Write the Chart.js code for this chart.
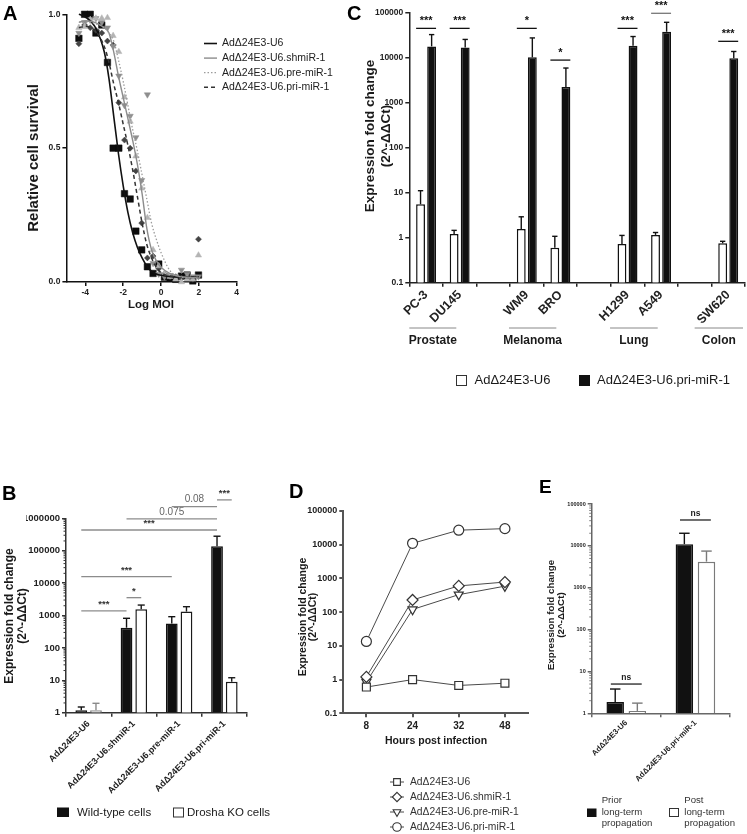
<!DOCTYPE html>
<html><head><meta charset="utf-8">
<script src="https://cdn.jsdelivr.net/npm/chart.js@4/dist/chart.umd.min.js"></script>
<style>
html,body{margin:0;padding:0;background:#fff;}
#wrap{position:relative;width:747px;height:834px;overflow:hidden;background:#fff;}
#wrap canvas{position:absolute;left:0;top:0;width:747px;height:834px;}
</style></head>
<body><div id="wrap">
<canvas id="cA" width="747" height="834"></canvas>
<canvas id="cB" width="747" height="834"></canvas>
<canvas id="cC" width="747" height="834"></canvas>
<canvas id="cD" width="747" height="834"></canvas>
<canvas id="cE" width="747" height="834"></canvas>
</div>
<script>
// ================= DATA =================
// Panel A : cell survival vs log MOI
const seriesNames = ['AdΔ24E3-U6','AdΔ24E3-U6.shmiR-1','AdΔ24E3-U6.pre-miR-1','AdΔ24E3-U6.pri-miR-1'];
const logMOI    = [-4.34,-4.04,-3.74,-3.44,-3.13,-2.83,-2.53,-2.23,-1.93,-1.63,-1.33,-1.02,-0.72,-0.42,-0.12,0.18,0.48,0.78,1.08,1.38,1.68,1.98];
const survU6    = [0.91,1.00,1.00,0.93,0.96,0.82,0.50,0.50,0.33,0.31,0.19,0.12,0.057,0.032,0.067,0.018,0.014,0.010,0.022,0.026,0.004,0.026];
const survShmiR = [0.93,0.97,0.98,0.985,0.97,0.95,0.88,0.77,0.66,0.62,0.54,0.38,0.70,0.07,0.03,0.02,0.025,0.02,0.045,0.03,0.02,0.02];
const survPre   = [0.95,0.954,0.98,0.985,0.985,0.987,0.92,0.86,0.69,0.60,0.47,0.35,0.24,0.12,0.06,0.03,0.02,0.01,0.00,0.01,0.01,0.10];
const survPri   = [0.89,0.96,0.95,0.94,0.93,0.90,0.885,0.67,0.53,0.50,0.415,0.22,0.09,0.097,0.05,0.03,0.02,0.02,0.015,0.02,0.01,0.16];
const fitLogMOI = [-4.34,-4,-3.5,-3,-2.75,-2.5,-2.25,-2,-1.75,-1.5,-1.25,-1,-0.75,-0.5,-0.25,0,0.5,1,1.5,2];
const fitU6     = [1.0,0.99,0.955,0.86,0.76,0.62,0.48,0.36,0.26,0.185,0.13,0.09,0.06,0.04,0.03,0.025,0.02,0.018,0.017,0.017];
const fitShmiR  = [0.97,0.975,0.97,0.95,0.93,0.86,0.77,0.69,0.61,0.53,0.44,0.33,0.2,0.12,0.08,0.055,0.03,0.02,0.017,0.015];
const fitPre    = [0.97,0.97,0.965,0.95,0.93,0.9,0.83,0.75,0.66,0.57,0.49,0.4,0.31,0.22,0.16,0.11,0.04,0.02,0.015,0.012];
const fitPri    = [0.95,0.955,0.94,0.88,0.82,0.74,0.67,0.59,0.51,0.42,0.32,0.22,0.14,0.09,0.055,0.035,0.022,0.02,0.02,0.02];
const ticksAX = [-4,-2,0,2,4];
const ticksAY = [0,0.5,1];

// Panel B : wild-type vs Drosha KO
const vectorsB = ['AdΔ24E3-U6','AdΔ24E3-U6.shmiR-1','AdΔ24E3-U6.pre-miR-1','AdΔ24E3-U6.pri-miR-1'];
const wtB     = [1.2, 420, 570, 138000];
const wtBErr  = [1.5, 820, 920, 280000];
const koB     = [1.2, 1550, 1320, 9];
const koBErr  = [1.95, 2100, 1870, 12];
const ticksB  = [1,10,100,1000,10000,100000,1000000];
const sigB    = ['***','*','***','***','0.075','0.08','***'];

// Panel C : cell lines
const cellLines = ['PC-3','DU145','','WM9','BRO','','H1299','A549','','SW620'];
const u6C      = [5.5,1.2,null,1.55,0.6,null,0.72,1.15,null,0.75];
const u6CErr   = [11,1.45,null,2.9,1.07,null,1.12,1.3,null,0.83];
const priC     = [17500,16500,null,10000,2200,null,18000,37000,null,9500];
const priCErr  = [32000,25000,null,27000,5800,null,29000,60000,null,13500];
const sigC     = ['***','***',null,'*','*',null,'***','***',null,'***'];
const tissues  = ['Prostate','Melanoma','Lung','Colon'];
const ticksC   = [0.1,1,10,100,1000,10000,100000];

// Panel D : time course
const hours  = ['8','24','32','48'];
const dU6    = [0.6,1.0,0.67,0.78];
const dShmiR = [1.2,230,600,780];
const dPre   = [0.85,120,330,590];
const dPri   = [13.5,11000,27000,30000];
const ticksD = [0.1,1,10,100,1000,10000,100000];

// Panel E : long-term propagation
const vectorsE  = ['AdΔ24E3-U6','AdΔ24E3-U6.pri-miR-1'];
const priorE    = [1.85, 11000];
const priorEErr = [3.8, 20000];
const postE     = [1.14, 4200];
const postEErr  = [1.75, 7500];
const sigE      = ['ns','ns'];
const ticksE    = [1,10,100,1000,10000,100000];

// ================= HELPERS =================
const FONT = '"Liberation Sans", Arial, Helvetica, sans-serif';
Chart.defaults.font.family = FONT;
Chart.defaults.color = '#222';
const CW = 747, CH = 834;
function pad(a, yW, xH){ return {left:a.l - yW, top:a.t, right:CW - a.r, bottom:CH - a.b - xH}; }
function f(size, bold){ return (bold ? 'bold ' : '') + size + 'px ' + FONT; }
function T(ctx, s, x, y, font, o){
  o = o || {};
  ctx.save(); ctx.font = font; ctx.fillStyle = o.color || '#1a1a1a';
  ctx.textAlign = o.align || 'center'; ctx.textBaseline = o.base || 'middle';
  ctx.translate(x, y); if (o.rot) ctx.rotate(o.rot);
  ctx.fillText(s, 0, 0); ctx.restore();
}
function line(ctx, x1, y1, x2, y2, color, lw, dash){
  ctx.save(); ctx.strokeStyle = color; ctx.lineWidth = lw; if (dash) ctx.setLineDash(dash);
  ctx.beginPath(); ctx.moveTo(x1, y1); ctx.lineTo(x2, y2); ctx.stroke(); ctx.restore();
}
function marker(ctx, style, x, y, r, fill, stroke, lw, rot){
  ctx.save(); ctx.fillStyle = fill; ctx.strokeStyle = stroke; ctx.lineWidth = lw; ctx.beginPath();
  if (style === 'rect'){ const s = r*Math.SQRT1_2; ctx.rect(x-s, y-s, 2*s, 2*s); }
  else if (style === 'rectRot'){ ctx.moveTo(x, y-r); ctx.lineTo(x+r, y); ctx.lineTo(x, y+r); ctx.lineTo(x-r, y); ctx.closePath(); }
  else if (style === 'triangle'){ let a = (rot||0)*Math.PI/180; for (let k=0;k<3;k++){ const px = x + Math.sin(a)*r, py = y - Math.cos(a)*r; k ? ctx.lineTo(px,py) : ctx.moveTo(px,py); a += 2*Math.PI/3; } ctx.closePath(); }
  else { ctx.arc(x, y, r, 0, Math.PI*2); }
  ctx.fill(); if (lw > 0) ctx.stroke(); ctx.restore();
}
function yTitle(ctx, lines, xs, y, font){
  lines.forEach((s, i) => T(ctx, s, xs[i], y, font, {rot:-Math.PI/2}));
}
function axisOpts(color, width){
  return {border:{display:true, color, width}, grid:{display:true, drawOnChartArea:false, drawTicks:true, tickLength:4, color, lineWidth:width}};
}
function logY(area, yW, ticks, color, width, size){
  return Object.assign({
    type:'logarithmic', min:ticks[0], max:ticks[ticks.length-1],
    afterBuildTicks: s => { s.ticks = ticks.map(v => ({value:v})); },
    afterFit: s => { s.width = yW; },
    ticks:{font:{size, weight:'bold'}, color:'#222', padding:2, callback: v => String(v)}
  }, axisOpts(color, width));
}
function errorBars(chart, dsIndex, errs, color, lw){
  const meta = chart.getDatasetMeta(dsIndex), ys = chart.scales.y, ctx = chart.ctx;
  const vals = chart.data.datasets[dsIndex].data;
  meta.data.forEach((bar, i) => {
    if (vals[i] == null || errs[i] == null) return;
    const ye = ys.getPixelForValue(errs[i]);
    const c = Array.isArray(color) ? color[i] : color;
    const w = bar.width * 0.3;
    line(ctx, bar.x, bar.y, bar.x, ye, c, lw);
    line(ctx, bar.x - w, ye, bar.x + w, ye, c, lw);
  });
}
function minorTicks(chart, color, lw){
  const ys = chart.scales.y, ctx = chart.ctx, x = chart.chartArea.left;
  for (let d = ys.min; d < ys.max; d *= 10){
    for (let m = 2; m < 10; m++){
      const y = ys.getPixelForValue(d*m);
      line(ctx, x - 2.5, y, x, y, color, lw);
    }
  }
}
function bracket(ctx, x1, x2, y, label, lineColor, font, textColor){
  line(ctx, x1, y, x2, y, lineColor, 1.3);
  T(ctx, label, (x1+x2)/2, y - 2, font, {base:'bottom', color:textColor});
}
const common = {responsive:false, animation:false, events:[], devicePixelRatio:1,
  plugins:{legend:{display:false}, tooltip:{enabled:false}, title:{display:false}}};

// ================= PANEL A =================
(function(){
  const area = {l:66.4, r:236.7, t:14.3, b:282};
  const pts = (ys) => logMOI.map((x, i) => ({x, y:ys[i]}));
  const fit = (ys) => fitLogMOI.map((x, i) => ({x, y:ys[i]}));
  const mk = (data, style, r, color, rot) => ({data, showLine:false, pointStyle:style, pointRadius:r, pointRotation:rot||0,
    pointBackgroundColor:color, pointBorderColor:color, pointBorderWidth:0.5, clip:false, order:2});
  const cv = (data, color, width, dash) => ({data, showLine:true, pointRadius:0, borderColor:color, borderWidth:width,
    borderDash:dash||[], cubicInterpolationMode:'monotone', clip:false, order:1});
  const legendA = [
    {c:'#111', w:1.6, d:[]}, {c:'#8c8c8c', w:1.4, d:[]}, {c:'#9c9c9c', w:1.3, d:[1.5,2]}, {c:'#333', w:1.5, d:[4,3]}
  ];
  new Chart(document.getElementById('cA'), {
    type:'line',
    data:{datasets:[
      mk(pts(survPre), 'triangle', 3.6, '#b4b4b4'),
      mk(pts(survShmiR), 'triangle', 3.6, '#8e8e8e', 180),
      mk(pts(survPri), 'rectRot', 3, '#444'),
      mk(pts(survU6), 'rect', 4.6, '#0d0d0d'),
      cv(fit(fitPre), legendA[2].c, legendA[2].w, legendA[2].d),
      cv(fit(fitShmiR), legendA[1].c, legendA[1].w),
      cv(fit(fitPri), legendA[3].c, legendA[3].w, legendA[3].d),
      cv(fit(fitU6), legendA[0].c, legendA[0].w)
    ]},
    options:Object.assign({}, common, {
      layout:{padding:pad(area, 40, 25)},
      scales:{
        x: Object.assign({type:'linear', min:-5, max:4,
          afterBuildTicks: s => { s.ticks = ticksAX.map(v => ({value:v})); },
          afterFit: s => { s.height = 25; },
          ticks:{font:{size:8.5, weight:'bold'}, color:'#222', padding:2, callback: v => String(v)}}, axisOpts('#111', 1.5)),
        y: Object.assign({type:'linear', min:0, max:1,
          afterBuildTicks: s => { s.ticks = ticksAY.map(v => ({value:v})); },
          afterFit: s => { s.width = 40; },
          ticks:{font:{size:8.5, weight:'bold'}, color:'#222', padding:2, callback: v => v.toFixed(1)}}, axisOpts('#111', 1.5))
      }
    }),
    plugins:[{id:'annA', afterDraw(chart){
      const ctx = chart.ctx;
      T(ctx, 'A', 3, 20, f(20, true), {align:'left', base:'alphabetic', color:'#000'});
      T(ctx, 'Relative cell survival', 34, 158, f(15, true), {rot:-Math.PI/2});
      T(ctx, 'Log MOI', 151, 305, f(11.5, true));
      seriesNames.forEach((s, i) => {
        const y = 43.5 + i*14.6;
        line(ctx, 204, y, 217, y, legendA[i].c, legendA[i].w, legendA[i].d);
        T(ctx, s, 222, y, f(10.5), {align:'left', color:'#222'});
      });
    }}]
  });
})();

// ================= PANEL B =================
(function(){
  const area = {l:66, r:247, t:518.3, b:712.7};
  const koBorder = ['#8a8a8a','#1a1a1a','#1a1a1a','#1a1a1a'];
  // bracket definitions: [dataset, index] start, [dataset, index] end, height (data units of the log axis)
  const brB = [
    [[0,0],[0,1],1380], [[0,1],[1,1],3550], [[0,0],[0,2],15800], [[0,0],[0,3],436000],
    [[0,1],[0,3],955000], [[0,2],[0,3],2300000], [[0,3],[1,3],3700000]
  ];
  new Chart(document.getElementById('cB'), {
    type:'bar',
    data:{labels:vectorsB, datasets:[
      {label:'Wild-type cells', data:wtB, backgroundColor:'#111', borderColor:'#111', borderWidth:1.5,
        categoryPercentage:0.65, barPercentage:0.8},
      {label:'Drosha KO cells', data:koB, backgroundColor:['#d6d6d6','#fff','#fff','#fff'], borderColor:koBorder, borderWidth:1.5,
        categoryPercentage:0.65, barPercentage:0.8}
    ]},
    options:Object.assign({}, common, {
      layout:{padding:pad(area, 40, 100)},
      scales:{
        x: Object.assign({afterFit: s => { s.height = 100; },
          ticks:{font:{size:9, weight:'bold'}, color:'#222', minRotation:45, maxRotation:45, autoSkip:false, padding:2}}, axisOpts('#333', 1.5)),
        y: logY(area, 40, ticksB, '#333', 1.5, 9.5)
      }
    }),
    plugins:[{id:'annB', afterDatasetsDraw(chart){
      const ctx = chart.ctx;
      errorBars(chart, 0, wtBErr, '#111', 1.4);
      errorBars(chart, 1, koBErr, koBorder, 1.4);
      minorTicks(chart, '#333', 1);
      const ys = chart.scales.y;
      brB.forEach((b, k) => {
        const x1 = chart.getDatasetMeta(b[0][0]).data[b[0][1]].x;
        const x2 = chart.getDatasetMeta(b[1][0]).data[b[1][1]].x;
        const isNum = /\d/.test(sigB[k]);
        bracket(ctx, x1, x2, ys.getPixelForValue(b[2]), sigB[k], '#8c8c8c', isNum ? f(10) : f(9.5, true), isNum ? '#666' : '#333');
      });
      T(ctx, 'B', 2, 500, f(20, true), {align:'left', base:'alphabetic', color:'#000'});
      yTitle(ctx, ['Expression fold change', '(2^-ΔΔCt)'], [10, 23], 616, f(12, true));
      ctx.save(); ctx.fillStyle = '#111'; ctx.fillRect(57, 807.5, 12, 9.5); ctx.restore();
      T(ctx, chart.data.datasets[0].label, 77, 812.5, f(11.5), {align:'left'});
      ctx.save(); ctx.fillStyle = '#fff'; ctx.strokeStyle = '#333'; ctx.lineWidth = 1; ctx.fillRect(173.5, 808, 10, 9); ctx.strokeRect(173.5, 808, 10, 9); ctx.restore();
      T(ctx, chart.data.datasets[1].label, 187, 812.5, f(11.5), {align:'left'});
    }}]
  });
})();

// ================= PANEL C =================
(function(){
  const area = {l:409.3, r:745, t:12.3, b:282.7};
  const sigLevelC = [44000,44000,null,44000,8700,null,44000,95000,null,22700]; // bracket heights (axis units)
  const groupSpan = [[-0.5,0.9],[2.47,3.88],[5.48,6.9],[8.0,9.44]];         // tissue underline spans (category units)
  new Chart(document.getElementById('cC'), {
    type:'bar',
    data:{labels:cellLines, datasets:[
      {label:'AdΔ24E3-U6', data:u6C, backgroundColor:'#fff', borderColor:'#111', borderWidth:1.5, categoryPercentage:0.66, barPercentage:0.8},
      {label:'AdΔ24E3-U6.pri-miR-1', data:priC, backgroundColor:'#111', borderColor:'#111', borderWidth:1.5, categoryPercentage:0.66, barPercentage:0.8}
    ]},
    options:Object.assign({}, common, {
      layout:{padding:pad(area, 36, 40)},
      scales:{
        x: Object.assign({afterFit: s => { s.height = 40; },
          ticks:{font:{size:12.5, weight:'bold'}, color:'#222', minRotation:45, maxRotation:45, autoSkip:false, padding:1}}, axisOpts('#222', 1.5)),
        y: logY(area, 36, ticksC, '#222', 1.5, 8.5)
      }
    }),
    plugins:[{id:'annC', afterDatasetsDraw(chart){
      const ctx = chart.ctx, ys = chart.scales.y, xs = chart.scales.x;
      errorBars(chart, 0, u6CErr, '#111', 1.4);
      errorBars(chart, 1, priCErr, '#111', 1.4);
      const m0 = chart.getDatasetMeta(0), m1 = chart.getDatasetMeta(1);
      sigC.forEach((s, i) => {
        if (!s) return;
        const a = m0.data[i], b = m1.data[i];
        bracket(ctx, a.x - a.width/2, b.x + b.width/2, ys.getPixelForValue(sigLevelC[i]), s,
          i === 7 ? '#777' : '#111', f(11, true), '#111');
      });
      tissues.forEach((t, k) => {
        const x1 = xs.getPixelForValue(groupSpan[k][0]), x2 = xs.getPixelForValue(groupSpan[k][1]);
        line(ctx, x1, 328, x2, 328, '#888', 1);
        T(ctx, t, (x1+x2)/2, 340.5, f(12, true));
      });
      T(ctx, 'C', 347, 20, f(20, true), {align:'left', base:'alphabetic', color:'#000'});
      yTitle(ctx, ['Expression fold change', '(2^-ΔΔCt)'], [370, 386], 136, f(13.5, true));
      ctx.save(); ctx.fillStyle = '#fff'; ctx.strokeStyle = '#333'; ctx.lineWidth = 1;
      ctx.fillRect(456.5, 375.5, 10, 10); ctx.strokeRect(456.5, 375.5, 10, 10);
      ctx.fillStyle = '#111'; ctx.fillRect(579, 375, 11, 11); ctx.restore();
      T(ctx, chart.data.datasets[0].label, 474.5, 380.5, f(13), {align:'left'});
      T(ctx, chart.data.datasets[1].label, 597, 380.5, f(13), {align:'left'});
    }}]
  });
})();

// ================= PANEL D =================
(function(){
  const area = {l:343.3, r:528, t:511, b:713.3};
  const sty = [
    {p:'rect', r:5.6, rot:0}, {p:'rectRot', r:5.5, rot:0}, {p:'triangle', r:5.2, rot:180}, {p:'circle', r:5, rot:0}
  ];
  const ds = (data, k) => ({label:seriesNames[k], data, borderColor:'#4a4a4a', borderWidth:1, pointStyle:sty[k].p,
    pointRadius:sty[k].r, pointRotation:sty[k].rot, pointBackgroundColor:'#fff', pointBorderColor:'#333', pointBorderWidth:1.2, clip:false, tension:0});
  new Chart(document.getElementById('cD'), {
    type:'line',
    data:{labels:hours, datasets:[ds(dU6,0), ds(dShmiR,1), ds(dPre,2), ds(dPri,3)]},
    options:Object.assign({}, common, {
      layout:{padding:pad(area, 40, 30)},
      scales:{
        x: Object.assign({offset:true, afterFit: s => { s.height = 30; },
          ticks:{font:{size:10, weight:'bold'}, color:'#222', padding:3, maxRotation:0}}, axisOpts('#555', 2)),
        y: logY(area, 40, ticksD, '#555', 2, 9)
      }
    }),
    plugins:[{id:'annD', afterDraw(chart){
      const ctx = chart.ctx;
      T(ctx, 'D', 289, 498, f(20, true), {align:'left', base:'alphabetic', color:'#000'});
      yTitle(ctx, ['Expression fold change', '(2^-ΔΔCt)'], [303.5, 313.5], 617, f(10.5, true));
      T(ctx, 'Hours post infection', 436, 741, f(10.5, true));
      seriesNames.forEach((s, k) => {
        const y = 782 + k*15;
        line(ctx, 390, y, 404, y, '#4a4a4a', 1);
        marker(ctx, sty[k].p, 397, y, sty[k].r*0.85, '#fff', '#333', 1.1, sty[k].rot);
        T(ctx, s, 410, y, f(10.3), {align:'left', color:'#333'});
      });
    }}]
  });
})();

// ================= PANEL E =================
(function(){
  const area = {l:591.7, r:730, t:504, b:713.3};
  const sigLevelE = [5.0, 41500]; // bracket heights (axis units)
  new Chart(document.getElementById('cE'), {
    type:'bar',
    data:{labels:vectorsE, datasets:[
      {label:'Prior long-term propagation', data:priorE, backgroundColor:'#111', borderColor:'#111', borderWidth:1.5, categoryPercentage:0.64, barPercentage:0.79},
      {label:'Post long-term propagation', data:postE, backgroundColor:'#fff', borderColor:'#7a7a7a', borderWidth:1.5, categoryPercentage:0.64, barPercentage:0.79}
    ]},
    options:Object.assign({}, common, {
      layout:{padding:pad(area, 30, 80)},
      scales:{
        x: Object.assign({afterFit: s => { s.height = 80; },
          ticks:{font:{size:7.8, weight:'bold'}, color:'#222', minRotation:45, maxRotation:45, autoSkip:false, padding:1}}, axisOpts('#666', 1.5)),
        y: logY(area, 30, ticksE, '#666', 1.5, 5.5)
      }
    }),
    plugins:[{id:'annE', afterDatasetsDraw(chart){
      const ctx = chart.ctx, ys = chart.scales.y;
      errorBars(chart, 0, priorEErr, '#111', 1.4);
      errorBars(chart, 1, postEErr, '#7a7a7a', 1.4);
      minorTicks(chart, '#666', 0.8);
      const m0 = chart.getDatasetMeta(0), m1 = chart.getDatasetMeta(1);
      sigE.forEach((s, i) => {
        const a = m0.data[i], b = m1.data[i];
        bracket(ctx, a.x - a.width/4, b.x + b.width/4, ys.getPixelForValue(sigLevelE[i]), s, '#222', f(8.5, true), '#222');
      });
      T(ctx, 'E', 539, 493, f(19, true), {align:'left', base:'alphabetic', color:'#000'});
      yTitle(ctx, ['Expression fold change', '(2^-ΔΔCt)'], [551.5, 561], 615, f(9.8, true));
      ctx.save(); ctx.fillStyle = '#111'; ctx.fillRect(587, 808.5, 9.5, 8.5);
      ctx.fillStyle = '#fff'; ctx.strokeStyle = '#333'; ctx.lineWidth = 1; ctx.fillRect(669.5, 808.5, 9, 8); ctx.strokeRect(669.5, 808.5, 9, 8); ctx.restore();
      const lp = ['Prior','long-term','propagation'], lq = ['Post','long-term','propagation'];
      lp.forEach((s, k) => T(ctx, s, 601.7, 800.7 + k*11.3, f(9.6), {align:'left', color:'#333'}));
      lq.forEach((s, k) => T(ctx, s, 684.3, 800.7 + k*11.3, f(9.6), {align:'left', color:'#333'}));
    }}]
  });
})();
</script>
</body></html>
